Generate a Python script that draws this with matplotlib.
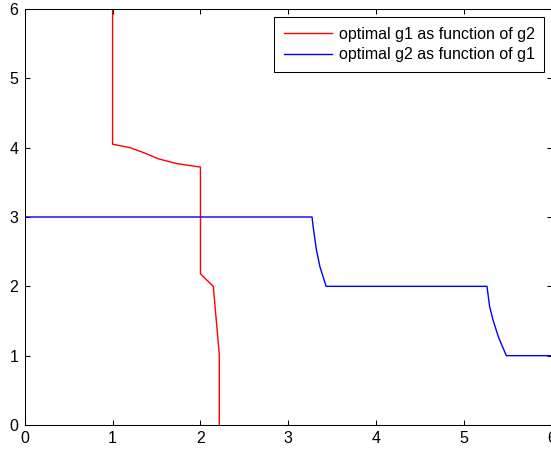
import matplotlib.pyplot as plt

plt.rcParams["font.family"] = ["Liberation Sans", "DejaVu Sans"]

# optimal g1 as a function of g2 (x = g1, y = g2)
g1_opt_x = [1.0, 1.0, 1.2, 1.35, 1.52, 1.73, 2.0, 2.0, 2.146, 2.214, 2.214]
g1_opt_y = [6.0, 4.05, 4.0, 3.93, 3.84, 3.77, 3.72, 2.18, 2.0, 1.02, 0.0]

# optimal g2 as a function of g1
g2_opt_x = [0.0, 3.27, 3.28, 3.32, 3.36, 3.43, 5.26, 5.29, 5.33, 5.39, 5.48, 6.0]
g2_opt_y = [3.0, 3.0, 2.88, 2.52, 2.28, 2.0, 2.0, 1.71, 1.51, 1.27, 1.0, 1.0]

ticks = [0, 1, 2, 3, 4, 5, 6]

fig = plt.figure(figsize=(5.51, 4.5), dpi=100)
ax = fig.add_axes([24.7 / 551, 25 / 450, (552 - 24.7) / 551, (425 - 9) / 450])

ax.plot(g1_opt_x, g1_opt_y, color="red", lw=1.0, label="optimal g1 as function of g2")
ax.plot(g2_opt_x, g2_opt_y, color="blue", lw=1.0, label="optimal g2 as function of g1")

ax.set_xlim(0, 6)
ax.set_ylim(0, 6)
ax.set_xticks(ticks)
ax.set_yticks(ticks)
ax.tick_params(direction="in", top=True, right=True, length=3.6, width=0.75,
               labelsize=11.5, pad=4.5)
ax.tick_params(axis="x", pad=4.0)
for sp in ax.spines.values():
    sp.set_linewidth(0.75)
    sp.set_color("black")

leg = ax.legend(loc="upper right", fontsize=11.5, fancybox=False, framealpha=1,
                edgecolor="black", borderaxespad=0.5, handlelength=3.06,
                handletextpad=0.38, labelspacing=0.35, borderpad=0.6)
leg.get_frame().set_linewidth(0.75)

fig.savefig("out.png", dpi=100)
